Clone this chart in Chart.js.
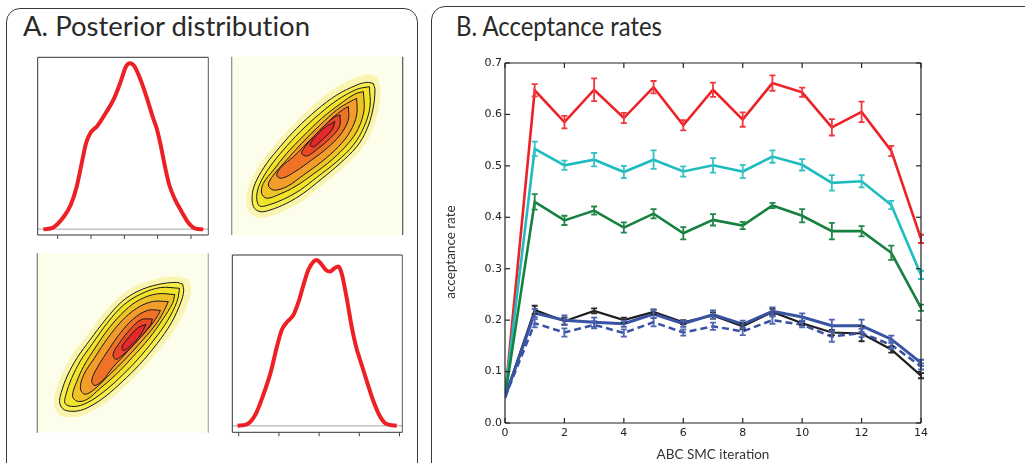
<!DOCTYPE html>
<html><head><meta charset="utf-8">
<script src="https://cdn.jsdelivr.net/npm/chart.js@4"></script>
<style>
html,body{margin:0;padding:0;background:#fff;width:1025px;height:463px;overflow:hidden;position:relative}
.panel{position:absolute;border:1.3px solid #3a3a3a;border-radius:14px;box-sizing:border-box}
#pA{left:6px;top:8px;width:412px;height:480px}
#pB{left:431px;top:6px;width:640px;height:480px}
.title{position:absolute;font-family:Lato,sans-serif;font-size:26px;color:#2a2a2a;white-space:nowrap;line-height:1;transform-origin:0 0;font-variant-ligatures:none;font-feature-settings:"liga" 0}
canvas{position:absolute}
</style></head><body>
<div class="panel" id="pA"></div>
<div class="panel" id="pB"></div>
<div class="title" id="tA" style="left:23px;top:13px" data-w="287">A. Posterior distribution</div>
<div class="title" id="tB" style="left:456px;top:13px" data-w="206">B. Acceptance rates</div>
<canvas id="cB" width="560" height="413" style="left:440px;top:50px"></canvas>
<canvas id="cTL" width="174" height="186" style="left:36px;top:56px"></canvas>
<canvas id="cTR" width="173" height="180" style="left:231px;top:56px"></canvas>
<canvas id="cBL" width="174" height="182" style="left:36px;top:252px"></canvas>
<canvas id="cBR" width="173" height="185" style="left:231px;top:254px"></canvas>
<script>
// ---------- Panel B data ----------
const iterations = [0,1,2,3,4,5,6,7,8,9,10,11,12,13,14];
const redRate = [0.05,0.647,0.585,0.648,0.593,0.653,0.579,0.648,0.590,0.661,0.643,0.575,0.605,0.529,0.358];
const redErr = [0,0.012,0.012,0.022,0.010,0.012,0.010,0.014,0.014,0.015,0.009,0.016,0.020,0.010,0.008];
const cyanRate = [0.055,0.533,0.501,0.512,0.488,0.512,0.489,0.501,0.489,0.518,0.502,0.467,0.470,0.424,0.288];
const cyanErr = [0,0.014,0.009,0.013,0.012,0.018,0.010,0.014,0.013,0.012,0.011,0.015,0.012,0.008,0.008];
const greenRate = [0.05,0.430,0.394,0.413,0.380,0.407,0.369,0.395,0.384,0.423,0.403,0.373,0.373,0.331,0.224];
const greenErr = [0,0.015,0.009,0.008,0.010,0.009,0.012,0.011,0.007,0.005,0.013,0.016,0.010,0.014,0.006];
const blackRate = [0.05,0.220,0.198,0.218,0.200,0.216,0.196,0.209,0.188,0.216,0.194,0.176,0.174,0.143,0.092];
const blackErr = [0,0.008,0.007,0.005,0.005,0.005,0.004,0.006,0.006,0.006,0.004,0.005,0.015,0.006,0.005];
const blueRate = [0.05,0.214,0.200,0.196,0.193,0.212,0.193,0.211,0.192,0.217,0.206,0.189,0.189,0.163,0.117];
const blueErr = [0,0.008,0.009,0.009,0.006,0.008,0.006,0.008,0.007,0.008,0.007,0.012,0.012,0.007,0.006];
const blueDashRate = [0.05,0.194,0.176,0.191,0.175,0.196,0.176,0.188,0.178,0.200,0.191,0.168,0.175,0.152,0.110];
const blueDashErr = [0,0.008,0.008,0.007,0.007,0.008,0.006,0.007,0.007,0.007,0.005,0.010,0.008,0.008,0.006];
const xTickVals = [0,2,4,6,8,10,12,14];
const yTickVals = [0,0.1,0.2,0.3,0.4,0.5,0.6,0.7];
const yTickLabels = ['0.0','0.1','0.2','0.3','0.4','0.5','0.6','0.7'];
const yAxisTitle = 'acceptance rate';

// ---------- Panel A data ----------
const margA_x = [-2.43,-2.13,-1.83,-1.61,-1.43,-1.28,-1.15,-1.01,-0.81,-0.55,-0.31,-0.11,0.05,0.17,0.29,0.47,0.67,0.85,0.97,1.09,1.22,1.35,1.52,1.72,1.92,2.12,2.37];
const margA_y = [0,0.012,0.073,0.147,0.258,0.399,0.520,0.585,0.625,0.706,0.790,0.893,0.984,1.004,0.990,0.913,0.798,0.681,0.611,0.510,0.379,0.268,0.181,0.107,0.040,0.006,0];
const margB_x = [-2.03,-1.80,-1.59,-1.39,-1.20,-1.05,-0.93,-0.79,-0.64,-0.51,-0.39,-0.27,-0.14,-0.06,0.04,0.17,0.27,0.38,0.48,0.56,0.68,0.81,0.92,1.06,1.19,1.34,1.52,1.68,1.93];
const margB_y = [0,0.008,0.064,0.185,0.326,0.477,0.578,0.628,0.668,0.748,0.849,0.940,0.990,1.0,0.980,0.940,0.930,0.950,0.960,0.920,0.779,0.598,0.477,0.366,0.266,0.155,0.054,0.010,0];
const margTicks = [-2,-1,0,1,2];

// joint-density contours (outer -> inner), in 0..100 plot units
const contour0 = [[85.5,88.5],[87,81],[85.5,69],[81.5,57],[75,47],[65,37.5],[53,28],[43,20],[33,14.5],[22,10.5],[15,10],[9.5,14],[9,24],[12,32],[18,42],[26,51.5],[36,62],[48,73],[60,82],[72,88],[80,90]];
const contour1 = [[82.8,85.0],[83.8,81.3],[82.5,70.1],[78.9,58.9],[73.1,49.5],[63.4,40.2],[51.7,30.8],[41.9,23.4],[32.2,17.8],[22.4,14.0],[16.6,13.1],[12.7,15.9],[12.1,23.4],[14.6,30.8],[20.5,40.2],[28.3,49.5],[38.0,59.8],[49.7,70.1],[61.4,78.5],[73.1,84.1],[79.0,85.6]];
const contour2 = [[80.5,83.2],[80.9,72.0],[77.4,60.7],[71.2,50.5],[61.4,41.1],[49.7,32.3],[40.0,25.2],[30.2,20.0],[21.4,16.8],[16.2,16.3],[14.6,21.5],[16.6,29.0],[22.4,38.3],[30.2,47.7],[40.0,57.9],[51.7,68.2],[62.4,76.1],[73.1,81.7]];
const contour3 = [[77.0,80.4],[77.4,70.1],[74.1,59.8],[68.2,51.4],[58.5,42.1],[47.8,34.2],[37.0,27.1],[28.3,23.0],[20.5,20.6],[17.5,23.4],[18.5,29.0],[24.4,36.4],[32.2,45.8],[41.9,55.5],[52.6,65.4],[63.4,73.5],[72.1,79.1]];
const contour4 = [[73.1,76.6],[73.1,67.3],[69.2,57.9],[62.4,49.5],[52.6,41.1],[41.9,33.6],[32.2,27.1],[24.4,25.2],[21.4,28.0],[24.4,33.6],[32.2,42.1],[40.9,51.4],[51.7,61.7],[61.4,70.1],[69.2,74.8]];
const contour5 = [[68.2,72.0],[68.2,64.5],[63.4,56.1],[55.6,48.6],[46.8,42.1],[37.0,35.5],[29.2,31.8],[26.3,33.6],[29.2,38.3],[36.1,43.9],[41.9,49.5],[49.7,57.0],[58.5,65.4],[65.3,70.5]];
const contour6 = [[63.4,67.3],[63.0,60.7],[57.5,54.2],[50.7,48.6],[43.9,44.3],[40.9,45.8],[42.9,49.5],[47.8,55.1],[54.6,61.7],[60.4,66.4]];
const contour7 = [[60.4,63.6],[58.5,58.9],[51.7,52.3],[47.8,49.5],[45.8,50.5],[48.7,54.8],[54.6,60.4]];

// ---------- plugins ----------
const framePlugin = {
  id:'frame',
  beforeDatasetsDraw(chart,args,o){
    if(!o.bg) return;
    const a=chart.chartArea,c=chart.ctx;
    c.save();c.fillStyle=o.bg;c.fillRect(a.left,a.top,a.right-a.left,a.bottom-a.top);c.restore();
  },
  afterDraw(chart,args,o){
    const a=chart.chartArea,c=chart.ctx;
    c.save();c.lineWidth=o.lineWidth||1;c.setLineDash([]);
    const seg=(x1,y1,x2,y2,col)=>{c.strokeStyle=col;c.beginPath();c.moveTo(x1,y1);c.lineTo(x2,y2);c.stroke();};
    const s=o.sides||{};
    if(s.top) seg(a.left,a.top,a.right,a.top,s.top);
    if(s.bottom) seg(a.left,a.bottom,a.right,a.bottom,s.bottom);
    if(s.left) seg(a.left,a.top,a.left,a.bottom,s.left);
    if(s.right) seg(a.right,a.top,a.right,a.bottom,s.right);
    const L=o.tickLen||4, dir=o.tickOut?1:-1, col=o.tickColor||'#333';
    if(o.xTicks){const sx=chart.scales.x;o.xTicks.forEach(v=>{const px=sx.getPixelForValue(v);
      (o.xTickSides||['bottom']).forEach(side=>{ if(side==='bottom') seg(px,a.bottom,px,a.bottom+dir*L,col); else seg(px,a.top,px,a.top-dir*L,col);});});}
    if(o.yTicks){const sy=chart.scales.y;o.yTicks.forEach(v=>{const py=sy.getPixelForValue(v);
      (o.yTickSides||['left']).forEach(side=>{ if(side==='left') seg(a.left,py,a.left-dir*L,py,col); else seg(a.right,py,a.right+dir*L,py,col);});});}
    if(o.yTitle){
      c.font=o.yTitle.font; c.fillStyle=o.yTitle.color; c.textAlign='center'; c.textBaseline='middle';
      c.translate(o.yTitle.x, a.top+(a.bottom-a.top)/2+o.yTitle.dy); c.rotate(-Math.PI/2);
      c.fillText(o.yTitle.text,0,0);
    }
    c.restore();
  }
};
const errorBarPlugin = {
  id:'errbars',
  afterDatasetsDraw(chart){
    const c=chart.ctx, ys=chart.scales.y, dss=chart.data.datasets;
    for(let i=dss.length-1;i>=0;i--){
      const ds=dss[i]; if(!ds.errors) continue;
      const meta=chart.getDatasetMeta(i);
      c.save();c.strokeStyle=ds.errColor||ds.borderColor;c.lineWidth=1.8;c.setLineDash([]);
      meta.data.forEach((pt,j)=>{
        const e=ds.errors[j]; if(!e) return;
        const v=ds.data[j].y, yT=ys.getPixelForValue(v+e), yB=ys.getPixelForValue(v-e), x=pt.x, w=3;
        c.beginPath();c.moveTo(x,yT);c.lineTo(x,yB);c.moveTo(x-w,yT);c.lineTo(x+w,yT);c.moveTo(x-w,yB);c.lineTo(x+w,yB);c.stroke();
      });
      c.restore();
    }
  }
};

const pts = (xs,ys)=>xs.map((x,i)=>({x:x,y:ys[i]}));
const lineDs = (label,rate,err,color,width,dash,errColor)=>({label:label,data:pts(iterations,rate),errors:err,errColor:errColor,borderColor:color,
  backgroundColor:color,borderWidth:width,borderDash:dash||[],pointRadius:0,tension:0,fill:false});

// ---------- Panel B chart ----------
new Chart(document.getElementById('cB'),{
  type:'line',
  data:{datasets:[
    lineDs('blue',blueRate,blueErr,'#3953a4',3,null,'#4a62ad'),
    lineDs('blue dashed',blueDashRate,blueDashErr,'#3953a4',2.5,[7,4],'#5068b2'),
    lineDs('black',blackRate,blackErr,'#1e1e1e',2.2,null,'#2a2a2a'),
    lineDs('green',greenRate,greenErr,'#16803f',2.6,null,'#22874a'),
    lineDs('cyan',cyanRate,cyanErr,'#1fbcbf',2.6,null,'#35c2c4'),
    lineDs('red',redRate,redErr,'#ec2227',2.6,null,'#ee3a3e')
  ]},
  options:{
    responsive:false,animation:false,
    layout:{padding:{top:13,right:79,left:0,bottom:0}},
    plugins:{legend:{display:false},tooltip:{enabled:false},
      frame:{sides:{top:'#222',bottom:'#222',left:'#222',right:'#222'},lineWidth:1.2,
        xTicks:xTickVals,xTickSides:['bottom','top'],yTicks:yTickVals,yTickSides:['left','right'],tickLen:5,tickOut:false,tickColor:'#222',
        yTitle:{text:yAxisTitle,font:'13.5px Lato',color:'#333',x:11,dy:9}}},
    scales:{
      x:{type:'linear',min:0,max:14,
        afterBuildTicks:s=>{s.ticks=xTickVals.map(v=>({value:v}));},
        afterFit:s=>{s.height=40;},
        grid:{display:false,drawTicks:false},border:{display:false},
        ticks:{font:{family:'DejaVu Sans',size:11},color:'#222',padding:4,maxRotation:0,callback:v=>String(v)},
        title:{display:true,text:'ABC SMC iteration',font:{family:'Lato',size:13.5,lineHeight:1.1},color:'#333',padding:{top:0,bottom:0.6}}},
      y:{type:'linear',min:0,max:0.7,
        afterBuildTicks:s=>{s.ticks=yTickVals.map(v=>({value:v}));},
        afterFit:s=>{s.width=65;},
        grid:{display:false,drawTicks:false},border:{display:false},
        ticks:{font:{family:'DejaVu Sans',size:11},color:'#222',padding:3,callback:(v,i)=>yTickLabels[i]}}
    }
  },
  plugins:[framePlugin,errorBarPlugin]
});

// ---------- Panel A marginal densities ----------
function marginal(id,xs,ys,xmin,xmax,ymin,ymax,pad){
  new Chart(document.getElementById(id),{
    type:'scatter',
    data:{datasets:[
      {data:pts(xs,ys),showLine:true,borderColor:'#ed2024',borderWidth:4,pointRadius:0,cubicInterpolationMode:'monotone',fill:false},
      {data:[{x:xmin,y:0},{x:xmax,y:0}],showLine:true,borderColor:'#c4c4c4',borderWidth:1.5,pointRadius:0,fill:false}
    ]},
    options:{responsive:false,animation:false,layout:{padding:pad},
      plugins:{legend:{display:false},tooltip:{enabled:false},
        frame:{sides:{top:'#333',bottom:'#333',left:'#333',right:'#555'},lineWidth:1,xTicks:margTicks,xTickSides:['bottom'],tickLen:4,tickOut:true,tickColor:'#444'}},
      scales:{x:{type:'linear',display:false,min:xmin,max:xmax},y:{type:'linear',display:false,min:ymin,max:ymax}}},
    plugins:[framePlugin]
  });
}
marginal('cTL',margA_x,margA_y,-2.6,2.52,-0.034,1.04,{left:1.7,top:1.3,right:1.7,bottom:7});
marginal('cBR',margB_x,margB_y,-2.16,2.07,-0.04,1.03,{left:1.3,top:1,right:1.7,bottom:6.7});

// ---------- Panel A joint densities ----------
const contourLevels = [contour0,contour1,contour2,contour3,contour4,contour5,contour6,contour7];
const contourFills = ['#f9f5b0','#f6ee4e','#f2e22a','#efc326','#f29c29','#ef7326','#ea4628','#e6282a'];
function joint(id,transpose,pad,leftCol,rightCol){
  const n=contourLevels.length;
  const ds=contourLevels.map((c,i)=>({
    data:c.concat([c[0]]).map(p=>transpose?{x:p[1],y:p[0]}:{x:p[0],y:p[1]}),
    showLine:true,fill:'shape',backgroundColor:contourFills[i],
    borderColor:i===0?'rgba(0,0,0,0)':'#1a1a1a',borderWidth:i===0?0:1,
    pointRadius:0,tension:0.35,order:n-i
  }));
  new Chart(document.getElementById(id),{
    type:'scatter',data:{datasets:ds},
    options:{responsive:false,animation:false,layout:{padding:pad},
      plugins:{legend:{display:false},tooltip:{enabled:false},filler:{propagate:false},
        frame:{bg:'#fdfdec',sides:{left:leftCol,right:rightCol},lineWidth:1.2}},
      scales:{x:{type:'linear',display:false,min:0,max:100},y:{type:'linear',display:false,min:0,max:100}}},
    plugins:[framePlugin]
  });
}
joint('cTR',false,{left:0.7,top:0.7,right:1.3,bottom:1},'#8a8a8a','#555');
joint('cBL',true,{left:1.3,top:1.3,right:1.7,bottom:1.3},'#777','#aaa');

// fit panel titles to the reference widths
document.querySelectorAll('.title').forEach(el=>{
  const w=el.getBoundingClientRect().width, target=+el.dataset.w;
  if(w>0) el.style.transform='scaleX('+(target/w).toFixed(3)+')';
});
</script>
</body></html>
